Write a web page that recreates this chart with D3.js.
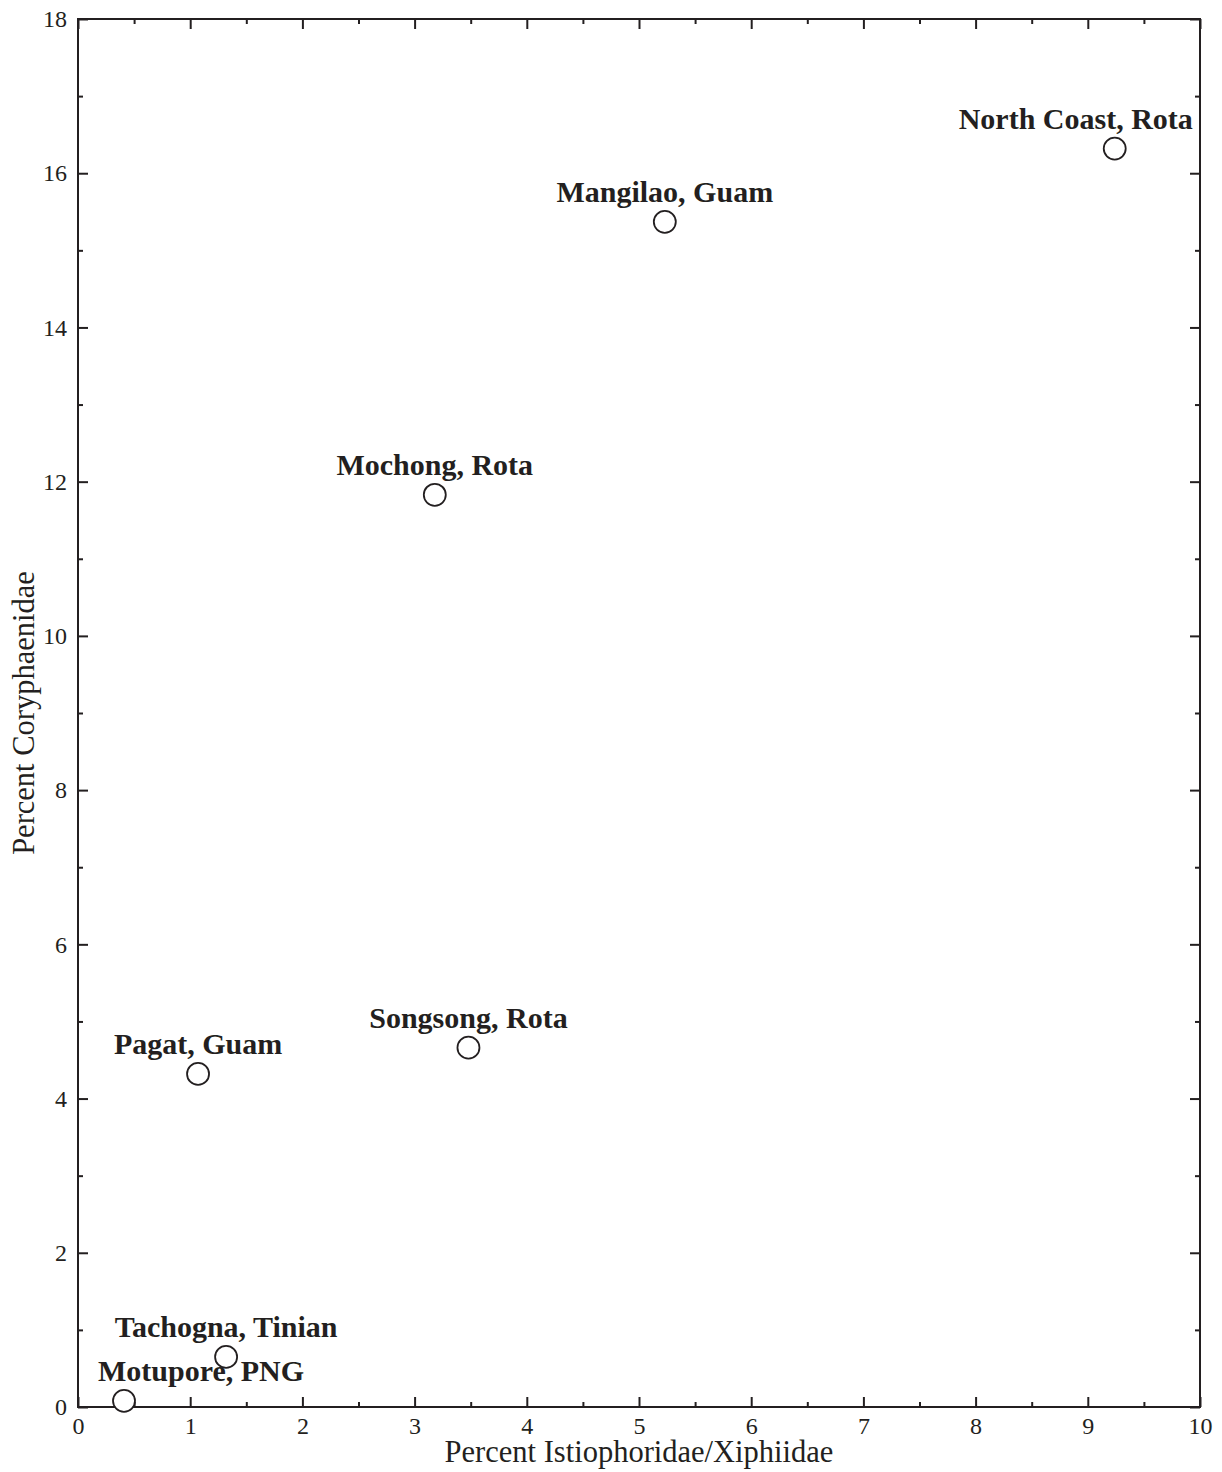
<!DOCTYPE html>
<html>
<head>
<meta charset="utf-8">
<script src="https://cdn.jsdelivr.net/npm/d3@7"></script>
<style>
  html, body { margin: 0; padding: 0; background: #fff; }
  svg { display: block; }
</style>
</head>
<body>
<svg id="chart" width="1222" height="1472"></svg>
<script>
// Site names and their fish-family percentages
const sites = ["North Coast, Rota", "Mangilao, Guam", "Mochong, Rota", "Songsong, Rota",
               "Pagat, Guam", "Tachogna, Tinian", "Motupore, PNG"];
const pctIstiophoridae = [9.24, 5.23, 3.18, 3.48, 1.07, 1.32, 0.41];
const pctCoryphaenidae = [16.32, 15.37, 11.83, 4.66, 4.32, 0.65, 0.08];

const xTicks = [0, 1, 2, 3, 4, 5, 6, 7, 8, 9, 10];
const yTicks = [0, 2, 4, 6, 8, 10, 12, 14, 16, 18];

// Horizontal nudges for labels that would otherwise run off or collide
const labelShift = { "North Coast, Rota": -39, "Motupore, PNG": 77 };

const margin = { left: 78, right: 22, top: 19, bottom: 65 };
const W = 1222, H = 1472;
const svg = d3.select("#chart");
const serif = "'Liberation Serif', 'Times New Roman', serif";
const ink = "#231f20";

const x = d3.scaleLinear().domain([0, 10]).range([margin.left, W - margin.right]);
const y = d3.scaleLinear().domain([0, 18]).range([H - margin.bottom, margin.top]);

const x0 = x.range()[0], x1 = x.range()[1];
const y0 = y.range()[0], y1 = y.range()[1];

// Frame
svg.append("rect")
  .attr("x", x0).attr("y", y1)
  .attr("width", x1 - x0).attr("height", y0 - y1)
  .attr("fill", "none").attr("stroke", ink).attr("stroke-width", 2);

const xMinor = d3.range(0.5, 10, 1);
const yMinor = d3.range(1, 18, 2);
const major = 10, minor = 5;

function styleAxis(g) {
  g.attr("font-size", 24).attr("font-family", serif);
  g.select(".domain").remove();
  g.selectAll(".tick line").attr("stroke", ink).attr("stroke-width", 2);
  g.selectAll(".tick text").attr("fill", ink)
    .style("font-family", serif).style("font-size", "24px");
}

// Bottom and top axes (ticks pointing inward)
svg.append("g").attr("transform", `translate(0,${y0})`)
  .call(d3.axisBottom(x).tickValues(xTicks).tickSize(-major).tickPadding(10).tickFormat(d3.format("d")))
  .call(styleAxis);
svg.append("g").attr("transform", `translate(0,${y0})`)
  .call(d3.axisBottom(x).tickValues(xMinor).tickSize(-minor).tickFormat(""))
  .call(styleAxis);
svg.append("g").attr("transform", `translate(0,${y1})`)
  .call(d3.axisTop(x).tickValues(xTicks).tickSize(-major).tickFormat(""))
  .call(styleAxis);
svg.append("g").attr("transform", `translate(0,${y1})`)
  .call(d3.axisTop(x).tickValues(xMinor).tickSize(-minor).tickFormat(""))
  .call(styleAxis);

// Left and right axes
svg.append("g").attr("transform", `translate(${x0},0)`)
  .call(d3.axisLeft(y).tickValues(yTicks).tickSize(-major).tickPadding(11).tickFormat(d3.format("d")))
  .call(styleAxis);
svg.append("g").attr("transform", `translate(${x0},0)`)
  .call(d3.axisLeft(y).tickValues(yMinor).tickSize(-minor).tickFormat(""))
  .call(styleAxis);
svg.append("g").attr("transform", `translate(${x1},0)`)
  .call(d3.axisRight(y).tickValues(yTicks).tickSize(-major).tickFormat(""))
  .call(styleAxis);
svg.append("g").attr("transform", `translate(${x1},0)`)
  .call(d3.axisRight(y).tickValues(yMinor).tickSize(-minor).tickFormat(""))
  .call(styleAxis);

// Axis titles
svg.append("text")
  .attr("x", (x0 + x1) / 2).attr("y", 1462)
  .attr("text-anchor", "middle")
  .style("font-family", serif).style("font-size", "30.5px").attr("fill", ink)
  .text("Percent Istiophoridae/Xiphiidae");
svg.append("text")
  .attr("transform", `translate(34,${(y0 + y1) / 2}) rotate(-90)`)
  .attr("text-anchor", "middle")
  .style("font-family", serif).style("font-size", "30.5px").attr("fill", ink)
  .text("Percent Coryphaenidae");

// Points
const data = sites.map((s, i) => ({ site: s, xv: pctIstiophoridae[i], yv: pctCoryphaenidae[i] }));

svg.append("g").selectAll("circle").data(data).join("circle")
  .attr("cx", d => x(d.xv)).attr("cy", d => y(d.yv)).attr("r", 11)
  .attr("fill", "#fff").attr("stroke", ink).attr("stroke-width", 1.8);

// Site labels
svg.append("g").selectAll("text").data(data).join("text")
  .attr("x", d => x(d.xv) + (labelShift[d.site] || 0))
  .attr("y", d => y(d.yv) - 20)
  .attr("text-anchor", "middle")
  .style("font-family", serif).style("font-size", "30px").style("font-weight", "bold")
  .attr("fill", ink)
  .text(d => d.site);
</script>
</body>
</html>
